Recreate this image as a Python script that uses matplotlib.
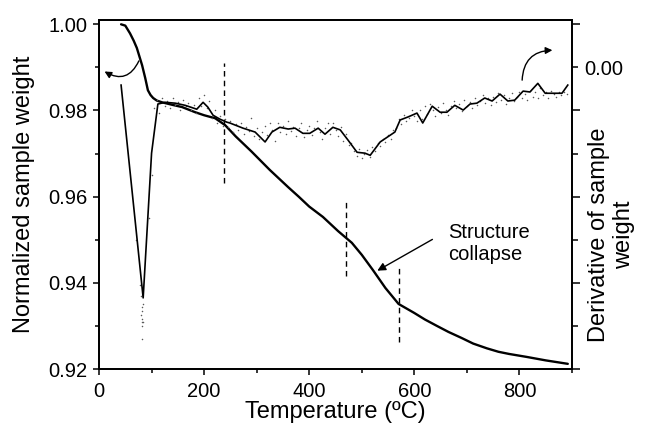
import matplotlib
matplotlib.use("Agg")
from matplotlib import pyplot as plt

plt.rcParams['font.family'] = ['Liberation Sans', 'DejaVu Sans']

# TGA curve: temperature (C) vs normalized weight
tga_T = [42, 50, 59, 66, 72, 77, 82, 88, 93, 98, 103, 110, 120, 140, 158, 183, 200,
         221, 240, 260, 290, 325, 360, 380, 400, 426, 455, 481, 500, 521, 545, 570,
         600, 620, 643, 665, 690, 712, 738, 760, 780, 814, 850, 892]
tga_w = [1.0000, 0.9997, 0.9979, 0.9962, 0.9945, 0.9925, 0.9905, 0.9875, 0.9847,
         0.9836, 0.9829, 0.9823, 0.9819, 0.9813, 0.9808, 0.9796, 0.9789, 0.9782,
         0.9766, 0.9740, 0.9705, 0.9662, 0.9622, 0.9600, 0.9577, 0.9553, 0.9520,
         0.9493, 0.9465, 0.9430, 0.9388, 0.9351, 0.9330, 0.9315, 0.9300, 0.9286,
         0.9272, 0.9259, 0.9248, 0.9240, 0.9235, 0.9228, 0.9220, 0.9212]

# DTG smoothed line
dtg_T = [42, 84, 100, 112, 126, 145, 164, 186, 198, 207, 217, 230, 243, 249, 274, 297,
         316, 329, 344, 360, 373, 388, 401, 417, 430, 445, 459, 474, 491, 506, 516,
         535, 563, 573, 588, 605, 616, 634, 649, 662, 677, 693, 706, 719, 734, 748,
         763, 778, 791, 807, 820, 835, 849, 881, 892]
dtg_d = [-0.0041, -0.0535, -0.0199, -0.0085, -0.0081, -0.0083, -0.0088, -0.0097,
         -0.0081, -0.0092, -0.0111, -0.0120, -0.0127, -0.0129, -0.0141, -0.0150,
         -0.0173, -0.0150, -0.0139, -0.0143, -0.0141, -0.0153, -0.0153, -0.0141,
         -0.0155, -0.0139, -0.0145, -0.0169, -0.0197, -0.0199, -0.0204, -0.0173,
         -0.0150, -0.0122, -0.0115, -0.0106, -0.0129, -0.0090, -0.0104, -0.0104,
         -0.0088, -0.0099, -0.0085, -0.0083, -0.0071, -0.0078, -0.0062, -0.0078,
         -0.0076, -0.0055, -0.0057, -0.0037, -0.0060, -0.0060, -0.0041]

# DTG raw points (dots)
raw_T = [70, 78, 80, 82, 84, 82, 80, 82, 81, 84, 81, 81, 95, 100,
         105, 110, 115, 120, 125, 130, 135, 140, 145, 150, 155, 160, 165, 170, 175,
         180, 185, 190, 195, 200, 205, 210, 215, 220, 225, 230, 235, 240, 245, 250,
         255, 260, 265, 270, 275, 280, 285, 290, 295, 300, 305, 310, 315, 320, 325,
         330, 335, 340, 345, 350, 355, 360, 365, 370, 375, 380, 385, 390, 395, 400,
         405, 410, 415, 420, 425, 430, 435, 440, 445, 450, 455, 460, 465, 470, 475,
         480, 485, 490, 495, 500, 505, 510, 515, 520, 525, 530, 535, 540, 545, 550,
         555, 560, 565, 570, 575, 580, 585, 590, 595, 600, 605, 610, 615, 620, 625,
         630, 635, 640, 645, 650, 655, 660, 665, 670, 675, 680, 685, 690, 695, 700,
         705, 710, 715, 720, 725, 730, 735, 740, 745, 750, 755, 760, 765, 770, 775,
         780, 785, 790, 795, 800, 805, 810, 815, 820, 825, 830, 835, 840, 845, 850,
         855, 860, 865, 870, 875, 880, 885, 890]
raw_d = [-0.0400, -0.0505, -0.0530, -0.0555, -0.0548, -0.0565, -0.0575, -0.0585,
         -0.0592, -0.0590, -0.0600, -0.0630, -0.0350, -0.0250,
         -0.0095, -0.0075, -0.0105, -0.0070, -0.0090, -0.0078, -0.0095, -0.0072,
         -0.0088, -0.0080, -0.0098, -0.0076, -0.0090, -0.0083, -0.0100, -0.0088,
         -0.0105, -0.0070, -0.0090, -0.0065, -0.0095, -0.0078, -0.0118, -0.0100,
         -0.0130, -0.0112, -0.0135, -0.0120, -0.0138, -0.0125,
         -0.0150, -0.0132, -0.0145, -0.0128, -0.0155, -0.0138, -0.0148, -0.0118,
         -0.0160, -0.0140, -0.0165, -0.0150, -0.0135, -0.0158, -0.0128, -0.0145,
         -0.0170, -0.0130, -0.0150, -0.0135, -0.0155, -0.0125, -0.0148, -0.0138,
         -0.0160, -0.0140, -0.0130, -0.0162, -0.0145, -0.0135, -0.0158, -0.0140,
         -0.0125, -0.0150, -0.0165, -0.0140, -0.0130, -0.0155, -0.0128, -0.0145,
         -0.0160, -0.0138, -0.0170, -0.0155, -0.0180, -0.0175,
         -0.0195, -0.0205, -0.0190, -0.0210, -0.0200, -0.0192, -0.0208, -0.0185,
         -0.0195, -0.0175, -0.0182, -0.0165, -0.0172, -0.0158, -0.0165, -0.0145,
         -0.0140, -0.0120, -0.0132, -0.0110, -0.0125, -0.0118, -0.0100, -0.0112,
         -0.0125, -0.0098, -0.0120, -0.0090, -0.0108, -0.0085, -0.0100, -0.0112,
         -0.0092, -0.0105, -0.0082, -0.0098, -0.0110, -0.0090, -0.0078, -0.0095,
         -0.0085, -0.0102, -0.0075, -0.0090, -0.0080, -0.0095, -0.0070, -0.0088,
         -0.0078, -0.0065, -0.0082, -0.0072, -0.0088, -0.0068, -0.0080, -0.0060,
         -0.0075, -0.0065, -0.0085, -0.0070, -0.0060, -0.0078, -0.0068, -0.0058,
         -0.0072, -0.0062, -0.0075, -0.0055, -0.0068, -0.0058, -0.0070, -0.0048,
         -0.0065, -0.0058, -0.0070, -0.0055, -0.0062, -0.0068, -0.0056, -0.0064,
         -0.0058, -0.0062]

# dashed marker lines: x, ymin, ymax (left axis units)
dash_x = [238, 470, 571]
dash_lo = [0.9632, 0.9416, 0.9263]
dash_hi = [0.9910, 0.9592, 0.9437]

fig = plt.figure(figsize=(6.48, 4.26), dpi=100)
ax = fig.add_axes([0.1528, 0.1338, 0.7299, 0.8192])
ax2 = ax.twinx()

ax.plot(tga_T, tga_w, color='black', lw=1.7, solid_capstyle='round')
ax.vlines(dash_x, dash_lo, dash_hi, colors='black', linestyles=(0, (4, 3)), lw=1)

ax2.scatter(raw_T, raw_d, s=1.2, color='0.35', lw=0)
ax2.plot(dtg_T, dtg_d, color='black', lw=1.2)

ax.set_xlim(0, 900)
ax.set_ylim(0.92, 1.001)
ax2.set_ylim(-0.07, 0.011)

ax.set_xticks([0, 200, 400, 600, 800])
ax.set_xticks([100, 300, 500, 700, 900], minor=True)
ax.set_yticks([0.92, 0.94, 0.96, 0.98, 1.00])
ax.set_yticklabels(['0.92', '0.94', '0.96', '0.98', '1.00'])
ax.set_yticks([0.93, 0.95, 0.97, 0.99], minor=True)

ax2.set_yticks([0.01, -0.01, -0.03, -0.05, -0.07])
ax2.set_yticklabels([])
ax2.set_yticks([0.0, -0.02, -0.04, -0.06], minor=True)
ax2.set_yticklabels(['0.00', '', '', ''], minor=True)

for a in (ax, ax2):
    for s in a.spines.values():
        s.set_linewidth(1.3)
ax.tick_params(axis='both', which='major', direction='out', length=4.5, width=1.1,
               labelsize=14.5, pad=4)
ax.tick_params(axis='both', which='minor', direction='out', length=3, width=1.1)
ax.tick_params(axis='x', which='major', pad=5)
ax2.tick_params(axis='y', which='major', direction='out', length=5.5, width=1.1)
ax2.tick_params(axis='y', which='minor', direction='out', length=4.5, width=1.1,
                labelsize=14.5, pad=4)

ax.set_xlabel('Temperature (ºC)', fontsize=17, labelpad=0)
ax.set_ylabel('Normalized sample weight', fontsize=17, labelpad=9)
fig.text(0.944, 0.448, 'Derivative of sample\nweight', rotation=90, fontsize=17,
         ha='center', va='center', multialignment='center')

# arrows pointing to the axes
ax.annotate('', xy=(6, 0.9894), xytext=(78, 0.9921),
            arrowprops=dict(arrowstyle='-|>', lw=1, color='black',
                            connectionstyle='arc3,rad=-0.6', mutation_scale=10))
ax.annotate('', xy=(868, 0.9940), xytext=(805, 0.9864),
            arrowprops=dict(arrowstyle='-|>', lw=1, color='black',
                            connectionstyle='arc3,rad=-0.5', mutation_scale=10))

ax.annotate('', xy=(525, 0.9425), xytext=(639, 0.9504),
            arrowprops=dict(arrowstyle='-|>', lw=1, color='black', mutation_scale=12))
ax.text(664, 0.9492, 'Structure\ncollapse', fontsize=14.5, ha='left', va='center')

fig.savefig('out.png', dpi=100)
